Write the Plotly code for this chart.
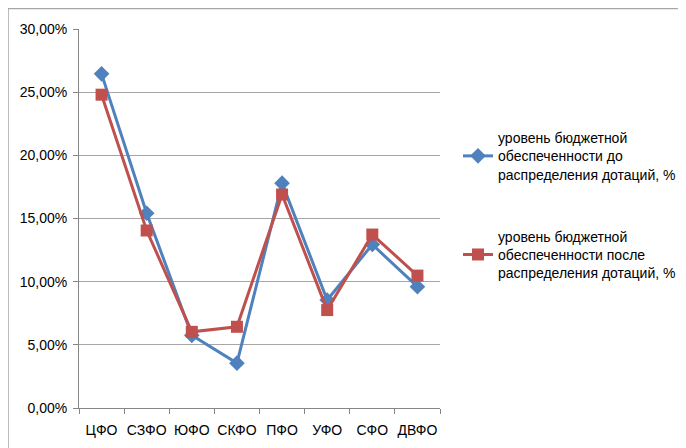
import plotly.graph_objects as go

categories = ["ЦФО", "СЗФО", "ЮФО", "СКФО", "ПФО", "УФО", "СФО", "ДВФО"]
before = [0.2645, 0.1542, 0.0575, 0.0355, 0.1780, 0.0855, 0.1294, 0.0960]
after = [0.2480, 0.1405, 0.0603, 0.0643, 0.1690, 0.0775, 0.1373, 0.1048]
name_before = "уровень бюджетной<br>обеспеченности до<br>распределения дотаций, %"
name_after = "уровень бюджетной<br>обеспеченности после<br>распределения дотаций, %"
y_ticks = [0, 0.05, 0.10, 0.15, 0.20, 0.25, 0.30]
y_labels = ["0,00%", "5,00%", "10,00%", "15,00%", "20,00%", "25,00%", "30,00%"]

FONT = "Liberation Sans, Arial, sans-serif"

fig = go.Figure()
fig.add_trace(go.Scatter(
    x=categories, y=before, name=name_before, mode="lines+markers",
    line=dict(color="#4F81BD", width=3),
    marker=dict(symbol="diamond", size=12, color="#4F81BD"),
    legendgroup="a",
))
fig.add_trace(go.Scatter(
    x=categories, y=after, name=name_after, mode="lines+markers",
    line=dict(color="#C0504D", width=3),
    marker=dict(symbol="square", size=12, color="#C0504D"),
    legendgroup="b",
))

# the page places the figure 8px from the top-left of the window
OFF = 8
W, H = 686, 448
plot_left, plot_right, plot_top, plot_bottom = 79, 440, 29, 407.7  # screen px
L = plot_left - OFF
R = W - (plot_right - OFF)
T = plot_top - OFF
B = H - (plot_bottom - OFF)
pw = W - L - R
ph = H - T - B

def px_x(s):
    return (s - OFF - L) / pw

def px_y(s):
    return (H - B - (s - OFF)) / ph

fig.add_shape(type="rect", xref="paper", yref="paper",
              x0=px_x(8), x1=px_x(720), y0=px_y(8.5), y1=px_y(480),
              line=dict(color="#A6A6A6", width=1.5), fillcolor="rgba(0,0,0,0)", layer="below")

fig.update_layout(
    width=W, height=H,
    margin=dict(l=L, r=R, t=T, b=B, autoexpand=False),
    paper_bgcolor="white", plot_bgcolor="white",
    font=dict(family=FONT, size=14, color="#000000"),
    showlegend=True,
    legend=dict(
        x=px_x(458), y=px_y(122), xanchor="left", yanchor="top",
        font=dict(family=FONT, size=14, color="#000000"),
        traceorder="grouped", tracegroupgap=41,
        bgcolor="rgba(0,0,0,0)", itemwidth=30,
    ),
    xaxis=dict(
        type="category", range=[-0.5, 7.5],
        showline=True, linecolor="#868686", linewidth=1,
        ticks="outside", ticklen=5, tickcolor="#868686",
        tickson="boundaries", showgrid=False, tickangle=0,
        automargin=False, ticklabelstandoff=9,
        tickfont=dict(family=FONT, size=14),
    ),
    yaxis=dict(
        range=[0, 0.30], tickvals=y_ticks, ticktext=y_labels,
        showline=True, linecolor="#868686", linewidth=1,
        ticks="outside", ticklen=5, tickcolor="#868686",
        showgrid=True, gridcolor="#A6A6A6", gridwidth=1,
        zeroline=False, automargin=False, ticklabelstandoff=3,
        tickfont=dict(family=FONT, size=14),
    ),
)

fig.write_html("out.html")
